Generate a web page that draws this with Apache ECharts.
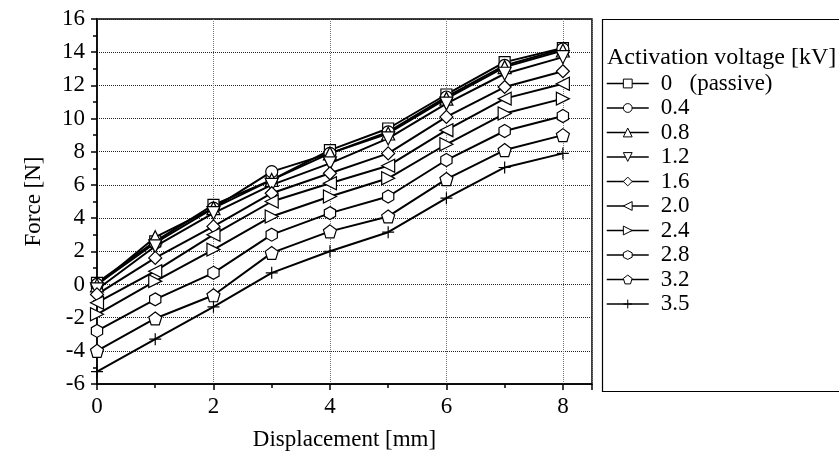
<!DOCTYPE html>
<html><head><meta charset="utf-8">
<script src="https://cdn.jsdelivr.net/npm/echarts@6/dist/echarts.min.js"></script>
<style>html,body{margin:0;padding:0;background:#fff}#c{width:839px;height:456px}</style>
</head><body><div id="c"></div>
<script>
const displacement = [0, 1, 2, 3, 4, 5, 6, 7, 8];
const seriesNames = ['0   (passive)', '0.4', '0.8', '1.2', '1.6', '2.0', '2.4', '2.8', '3.2', '3.5'];
const f00 = [0.1, 2.6, 4.8, 6.3, 8.1, 9.4, 11.45, 13.4, 14.25];
const f04 = [0.0, 2.5, 4.6, 6.8, 7.9, 9.2, 11.3, 13.2, 14.2];
const f08 = [-0.05, 2.85, 4.6, 6.3, 7.9, 9.1, 11.2, 13.1, 14.1];
const f12 = [-0.3, 2.3, 4.3, 6.0, 7.3, 8.8, 10.9, 12.7, 13.7];
const f16 = [-0.6, 1.6, 3.5, 5.5, 6.7, 7.9, 10.1, 11.9, 12.85];
const f20 = [-1.1, 0.8, 3.0, 5.0, 6.1, 7.15, 9.3, 11.2, 12.1];
const f24 = [-1.8, 0.2, 2.1, 4.1, 5.3, 6.4, 8.45, 10.3, 11.2];
const f28 = [-2.8, -0.9, 0.7, 3.0, 4.3, 5.3, 7.5, 9.25, 10.15];
const f32 = [-4.0, -2.05, -0.65, 1.9, 3.2, 4.1, 6.35, 8.1, 9.0];
const f35 = [-5.25, -3.3, -1.35, 0.7, 2.0, 3.15, 5.2, 7.05, 7.9];
const allValues = [f00, f04, f08, f12, f16, f20, f24, f28, f32, f35];
const yTicks = {min: -6, max: 16, interval: 2};
const xTicks = {min: 0, max: 8.5, interval: 2};

const symbols = [
  'rect', 'circle', 'triangle',
  'path://M0,0L10,0L5,10Z',
  'diamond',
  'path://M10,0L10,10L0,5Z',
  'path://M0,0L0,10L10,5Z',
  'path://M5,0L9.33,2.5L9.33,7.5L5,10L0.67,7.5L0.67,2.5Z',
  'path://M5,0L10,3.8L8.1,10L1.9,10L0,3.8Z',
  'path://M5,0L5,10M0,5L10,5'
];
const sizes = [11, 12, 13, 13, 13, 13, 13, 13, 13, 12];
const FONT = 'Liberation Serif';
const FS = 23;

const chart = echarts.init(document.getElementById('c'), null, {renderer: 'canvas'});
const series = seriesNames.map((n, i) => ({
  name: n, type: 'line',
  data: displacement.map((x, j) => [x, allValues[i][j]]),
  symbol: symbols[i], symbolSize: sizes[i], symbolKeepAspect: true,
  showAllSymbol: true,
  lineStyle: {color: '#000', width: 2},
  itemStyle: {color: '#fff', borderColor: '#000', borderWidth: 1.2},
  emphasis: {disabled: true},
  animation: false, z: 3
}));
const legends = seriesNames.map((n, i) => ({
  data: [n], orient: 'vertical', left: 606, top: 72 + 24.5 * i,
  itemWidth: 42, itemHeight: 11, padding: 0,
  lineStyle: {width: 1.5, color: '#000'},
  itemStyle: {color: '#fff', borderColor: '#000', borderWidth: 1},
  textStyle: {fontFamily: FONT, fontSize: FS, color: '#000', padding: [0, 0, 0, 7]},
  selectedMode: false
}));
chart.setOption({
  animation: false,
  backgroundColor: '#fff',
  grid: {left: 97, top: 19, right: 247, bottom: 72, show: true, borderColor: '#000', borderWidth: 1.5, backgroundColor: 'transparent'},
  xAxis: {
    type: 'value', min: xTicks.min, max: xTicks.max, interval: xTicks.interval,
    name: 'Displacement [mm]', nameLocation: 'middle', nameGap: 44,
    nameTextStyle: {fontFamily: FONT, fontSize: FS, color: '#000'},
    axisLine: {show: true, onZero: false, lineStyle: {color: '#000', width: 1.5}},
    axisTick: {show: true, length: 6, lineStyle: {color: '#000', width: 1.5}},
    minorTick: {show: true, splitNumber: 2, length: 4, lineStyle: {color: '#000', width: 1.5}},
    axisLabel: {fontFamily: FONT, fontSize: FS, color: '#000', margin: 11, showMaxLabel: false},
    splitLine: {show: true, lineStyle: {color: '#777', type: 'dotted', width: 1}}
  },
  yAxis: {
    type: 'value', min: yTicks.min, max: yTicks.max, interval: yTicks.interval,
    name: 'Force [N]', nameLocation: 'middle', nameGap: 52,
    nameTextStyle: {fontFamily: FONT, fontSize: FS, color: '#000'},
    axisLine: {show: true, onZero: false, lineStyle: {color: '#000', width: 1.5}},
    axisTick: {show: true, length: 6, lineStyle: {color: '#000', width: 1.5}},
    minorTick: {show: true, splitNumber: 2, length: 4, lineStyle: {color: '#000', width: 1.5}},
    axisLabel: {fontFamily: FONT, fontSize: FS, color: '#000', margin: 12},
    splitLine: {show: true, lineStyle: {color: '#222', type: 'dotted', width: 1}}
  },
  legend: legends,
  graphic: [
    {type: 'rect', shape: {x: 602.5, y: 19.5, width: 260, height: 372}, style: {fill: 'none', stroke: '#000', lineWidth: 1.2}, z: 1},
    {type: 'text', x: 607, y: 58, style: {text: 'Activation voltage [kV]', fontFamily: FONT, fontSize: 24, fill: '#000', verticalAlign: 'middle'}, z: 2}
  ],
  series: series
});
</script></body></html>
